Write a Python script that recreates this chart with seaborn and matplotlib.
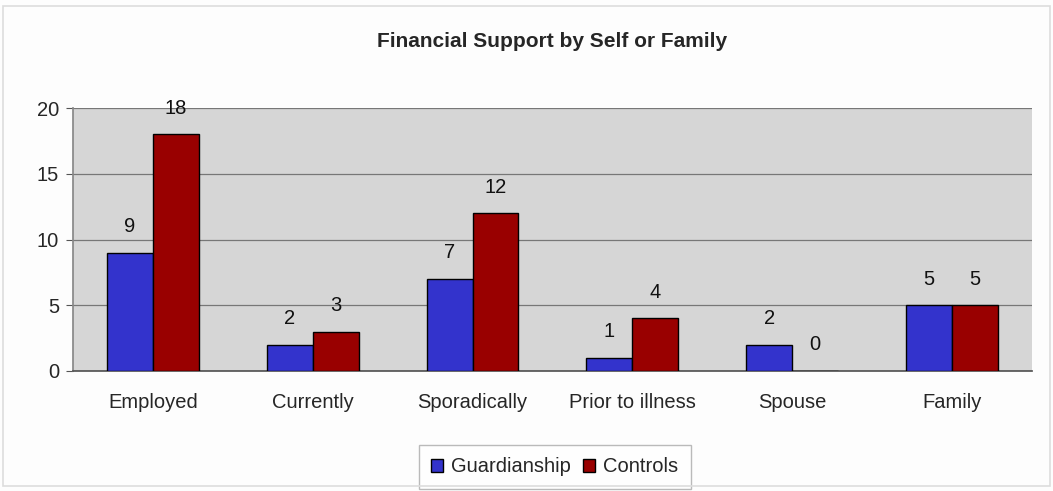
import matplotlib
matplotlib.use("Agg")
import matplotlib.pyplot as plt
import seaborn as sns
import pandas as pd
from matplotlib.patches import Rectangle

categories = ["Employed", "Currently", "Sporadically", "Prior to illness", "Spouse", "Family"]
guardianship = [9, 2, 7, 1, 2, 5]
controls = [18, 3, 12, 4, 0, 5]
series_names = ["Guardianship", "Controls"]
yticks = [0, 5, 10, 15, 20]

df = pd.DataFrame({
    "category": categories * 2,
    "group": [series_names[0]] * len(categories) + [series_names[1]] * len(categories),
    "value": guardianship + controls,
})

sns.set_theme(style="white")
plt.rcParams["font.family"] = ["Liberation Sans", "DejaVu Sans"]

fig = plt.figure(figsize=(10.53, 4.91), dpi=100, facecolor="#fdfdfd")
ax = fig.add_axes([0.0693, 0.2444, 0.9107, 0.5356])
ax.set_facecolor("#d6d6d6")

palette = {"Guardianship": "#3333cc", "Controls": "#990000"}
sns.barplot(data=df, x="category", y="value", hue="group", order=categories,
            hue_order=series_names, palette=palette, width=0.575,
            edgecolor="black", linewidth=1.0, saturation=1, ax=ax, zorder=3)

fs = 14.5
ax.set_ylim(0, 20)
ax.set_yticks(yticks)
ax.set_yticklabels([str(t) for t in yticks], fontsize=fs)
ax.set_xlim(-0.5, len(categories) - 0.5)
ax.tick_params(axis="x", labelsize=fs, pad=16, length=0)
ax.tick_params(axis="y", length=5, width=0.8, color="#555555", left=True, pad=5)
ax.set_xlabel("")
ax.set_ylabel("")
ax.yaxis.grid(True, color="#777777", linewidth=0.9, zorder=0)
ax.set_axisbelow(True)
for side in ["top", "right"]:
    ax.spines[side].set_visible(False)
ax.spines["left"].set_color("#888888")
ax.spines["bottom"].set_color("#555555")

for container in ax.containers:
    ax.bar_label(container, labels=[str(int(v)) for v in container.datavalues],
                 padding=12, fontsize=fs, color="#111111")

ax.set_title("Financial Support by Self or Family", fontsize=15, fontweight="bold", pad=44)

handles, labels = ax.get_legend_handles_labels()
ax.legend(handles, labels, loc="center", bbox_to_anchor=(0.527, 0.049),
          bbox_transform=fig.transFigure, ncol=2, frameon=True, fancybox=False,
          edgecolor="#aaaaaa", fontsize=fs, handlelength=0.6, handleheight=0.6,
          handletextpad=0.4, columnspacing=0.6, borderpad=0.6)

fig.patches.append(Rectangle((0.003, 0.01), 0.994, 0.978, transform=fig.transFigure,
                             fill=False, edgecolor="#dddddd", linewidth=1.2))

fig.savefig("out.png", dpi=100, facecolor=fig.get_facecolor())
